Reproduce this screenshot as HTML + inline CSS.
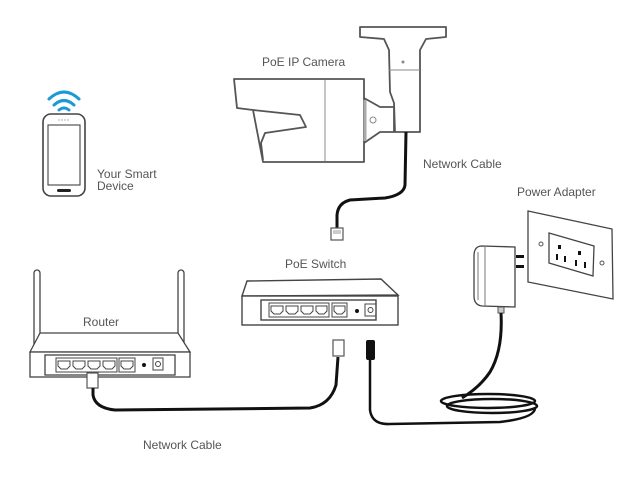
<!DOCTYPE html>
<html><head><meta charset="utf-8"><style>
html,body{margin:0;padding:0;background:#fff}
svg{display:block}
text{font-family:"Liberation Sans",sans-serif;fill:#555;font-size:12px}
</style></head><body>
<svg width="640" height="480" viewBox="0 0 640 480" xmlns="http://www.w3.org/2000/svg">
<!-- phone -->
<g fill="none" stroke="#1a9ad6" stroke-width="3" stroke-linecap="round">
<path d="M49,99 Q64,85 79,99"/>
<path d="M54,105 Q64,96 74,105"/>
<path d="M59,110 Q64,106 69,110"/>
</g>
<rect x="43" y="114" width="42" height="82" rx="8" fill="#fff" stroke="#444" stroke-width="1.6"/>
<rect x="48" y="125" width="32" height="60" fill="none" stroke="#444" stroke-width="1.1"/>
<rect x="57" y="189" width="14" height="3" rx="1.5" fill="#222"/>
<g fill="#777"><circle cx="59" cy="120" r="0.6"/><circle cx="62" cy="120" r="0.6"/><circle cx="65" cy="120" r="0.6"/><circle cx="68" cy="120" r="0.6"/></g>
<text x="97" y="178">Your Smart</text>
<text x="97" y="190">Device</text>

<!-- camera -->
<text x="262" y="66">PoE IP Camera</text>
<g fill="#fff" stroke="#555" stroke-width="1.8" stroke-linejoin="round">
<path d="M360,27 L446,27 L446,37 L426,39 L420,50 L420,132 L395,132 L394,103 L390,92 L389,50 L384,39 L360,37 Z"/>
<path d="M364,98 L380,107 L394,107 L394,132 L380,132 L364,143 Z"/>
<path d="M234,79 L364,79 L364,162 L263,162 L253,110 L237,108 Z"/>
<path d="M253,110 L300,115 L306,127 L265,133 L261,143 L263,160" fill="none"/>
</g>
<line x1="325" y1="80" x2="325" y2="161" stroke="#888" stroke-width="1"/>
<line x1="389" y1="70" x2="420" y2="70" stroke="#888" stroke-width="1"/>
<circle cx="403" cy="62" r="1.5" fill="#888"/>
<circle cx="373" cy="120" r="3" fill="none" stroke="#888"/>
<line x1="365" y1="100" x2="365" y2="141" stroke="#aaa" stroke-width="3"/>
<text x="423" y="168">Network Cable</text>
<path d="M406,132 L405,185 Q404,195 385,198 L350,200 Q338,203 337,215 L337,230" fill="none" stroke="#111" stroke-width="3"/>
<rect x="331" y="228" width="12" height="12" fill="#fff" stroke="#555" stroke-width="1.2"/>
<rect x="333" y="230" width="8" height="4" fill="#ccc"/>

<!-- switch -->
<text x="285" y="268">PoE Switch</text>
<path d="M242,296 L247,281 L381,279 L398,295 Z" fill="#fff" stroke="#444" stroke-width="1.4"/>
<rect x="242" y="296" width="156" height="29" fill="#fff" stroke="#444" stroke-width="1.4"/>
<rect x="261" y="300" width="115" height="20" fill="#fff" stroke="#444" stroke-width="1.4"/>
<g fill="none" stroke="#444" stroke-width="1">
<rect x="269" y="303" width="60" height="14"/>
<path d="M271,306 h12 v5 l-3,3 h-6 l-3,-3 z M286,306 h12 v5 l-3,3 h-6 l-3,-3 z M301,306 h12 v5 l-3,3 h-6 l-3,-3 z M316,306 h11 v5 l-3,3 h-5 l-3,-3 z"/>
<rect x="332" y="303" width="15" height="14"/>
<path d="M334,306 h11 v5 l-3,3 h-5 l-3,-3 z"/>
<rect x="365" y="304" width="11" height="12"/><circle cx="370.5" cy="310" r="2.5"/>
</g>
<circle cx="357" cy="311" r="2" fill="#111"/>
<rect x="333" y="340" width="11" height="16" fill="#fff" stroke="#555" stroke-width="1.2"/>
<rect x="366" y="340" width="9" height="20" rx="2" fill="#111"/>

<!-- router -->
<rect x="34" y="270" width="6" height="88" rx="3" fill="#fff" stroke="#444" stroke-width="1.3"/>
<rect x="178" y="270" width="6" height="88" rx="3" fill="#fff" stroke="#444" stroke-width="1.3"/>
<text x="83" y="326">Router</text>
<path d="M30,352 L40,333 L178,333 L190,352 Z" fill="#fff" stroke="#444" stroke-width="1.3"/>
<rect x="30" y="352" width="160" height="25" fill="#fff" stroke="#444" stroke-width="1.3"/>
<rect x="45" y="355" width="130" height="20" fill="#fff" stroke="#444" stroke-width="1.3"/>
<g fill="none" stroke="#444" stroke-width="1">
<rect x="56" y="358" width="61" height="14"/>
<path d="M58,361 h12 v5 l-3,3 h-6 l-3,-3 z M73,361 h12 v5 l-3,3 h-6 l-3,-3 z M88,361 h12 v5 l-3,3 h-6 l-3,-3 z M103,361 h12 v5 l-3,3 h-6 l-3,-3 z"/>
<rect x="119" y="358" width="16" height="14"/>
<path d="M121,361 h12 v5 l-3,3 h-6 l-3,-3 z"/>
<rect x="153" y="358" width="10" height="12"/><circle cx="158" cy="364" r="2.5"/>
</g>
<circle cx="144" cy="365" r="2" fill="#111"/>
<rect x="87" y="373" width="11" height="15" fill="#fff" stroke="#555" stroke-width="1.2"/>

<!-- network cable bottom -->
<path d="M93,388 L93,395 Q95,408 115,410 L310,408 Q330,405 336,385 L338,357" fill="none" stroke="#111" stroke-width="3"/>
<text x="143" y="449">Network Cable</text>

<!-- power adapter -->
<text x="517" y="196">Power Adapter</text>
<path d="M528,211 L612,229 L613,299 L528,282 Z" fill="#fff" stroke="#444" stroke-width="1.3"/>
<path d="M549,233 L594,246 L593,276 L549,263 Z" fill="#fff" stroke="#444" stroke-width="1.3"/>
<circle cx="541" cy="244" r="2" fill="none" stroke="#555"/>
<circle cx="602" cy="263" r="2" fill="none" stroke="#555"/>
<g fill="#111"><rect x="558" y="245" width="3" height="4"/><rect x="578" y="251" width="3" height="4"/><rect x="556" y="254" width="2" height="6"/><rect x="564" y="256" width="2" height="6"/><rect x="575" y="260" width="2" height="6"/><rect x="584" y="262" width="2" height="6"/></g>
<rect x="516" y="255" width="8" height="3" fill="#111"/><rect x="516" y="265" width="8" height="3" fill="#111"/>
<path d="M482,246 L515,247 L515,307 L482,306 Q474,305 474,296 L474,256 Q474,246 482,246 Z" fill="#fff" stroke="#444" stroke-width="1.3"/>
<path d="M485,246 L485,306 M478,252 L478,300" fill="none" stroke="#777" stroke-width="1"/>
<rect x="498" y="307" width="6" height="6" fill="#ccc" stroke="#555"/>
<path d="M501,313 Q503,350 490,372 Q480,387 462,398" fill="none" stroke="#111" stroke-width="3"/>
<g fill="none" stroke="#111" stroke-width="2.5">
<ellipse cx="488" cy="401" rx="47" ry="7"/>
<ellipse cx="492" cy="406" rx="45" ry="7"/>
<path d="M370,360 L370,410 Q372,425 390,424 L500,422 Q535,418 535,408"/>
</g>
</svg>
</body></html>
